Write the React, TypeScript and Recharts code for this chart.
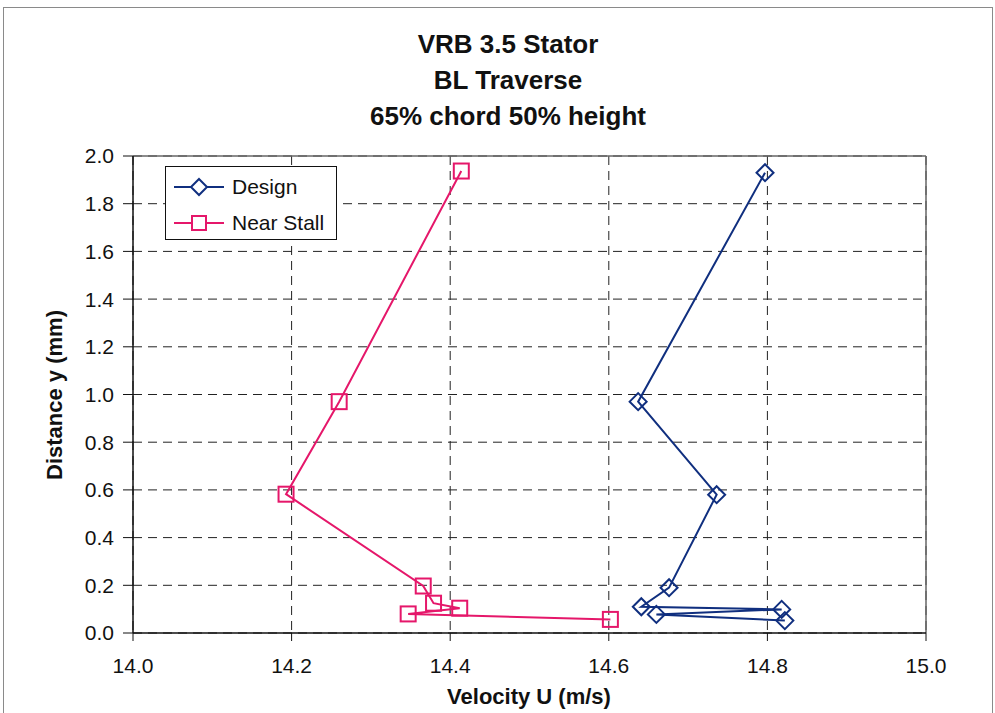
import React from 'react';
import {
    ScatterChart,
    Scatter,
    XAxis,
    YAxis,
    CartesianGrid,
    ReferenceLine,
} from 'recharts';

// velocity (m/s) against distance from wall (mm), one pair of arrays per run
const designVelocity = [14.797, 14.637, 14.736, 14.676, 14.641, 14.818, 14.66, 14.822];
const designDistance = [1.93, 0.97, 0.58, 0.19, 0.11, 0.099, 0.078, 0.052];

const stallVelocity = [14.414, 14.26, 14.193, 14.366, 14.379, 14.412, 14.347, 14.602];
const stallDistance = [1.937, 0.97, 0.582, 0.197, 0.125, 0.104, 0.08, 0.057];

const xTicks = [14.0, 14.2, 14.4, 14.6, 14.8, 15.0];
const yTicks = [0, 0.2, 0.4, 0.6, 0.8, 1.0, 1.2, 1.4, 1.6, 1.8, 2.0];

const titleLines = ['VRB 3.5 Stator', 'BL Traverse', '65% chord 50% height'];

const DESIGN_COLOR = '#102f7f';
const STALL_COLOR = '#e5176a';
const FONT = '"Liberation Sans", Arial, sans-serif';

const toPoints = (xs: number[], ys: number[]) => xs.map((x, i) => ({ x, y: ys[i] }));

const designData = toPoints(designVelocity, designDistance);
const stallData = toPoints(stallVelocity, stallDistance);

const Diamond = (props: any) => {
    const { cx, cy } = props;
    const r = 8.5;
    return (
        <path
            d={`M${cx},${cy - r} L${cx + r},${cy} L${cx},${cy + r} L${cx - r},${cy} Z`}
            fill="none"
            stroke={DESIGN_COLOR}
            strokeWidth={2}
        />
    );
};

const Square = (props: any) => {
    const { cx, cy } = props;
    const h = 7.5;
    return (
        <rect x={cx - h} y={cy - h} width={h * 2} height={h * 2} fill="none" stroke={STALL_COLOR} strokeWidth={2} />
    );
};

const legendItems = [
    { name: 'Design', shape: 'diamond', color: DESIGN_COLOR },
    { name: 'Near Stall', shape: 'square', color: STALL_COLOR },
];

const LegendBox = () => (
    <div
        style={{
            position: 'absolute',
            left: 165,
            top: 166,
            width: 170,
            height: 72,
            border: '1px solid #111',
            background: '#fff',
            fontFamily: FONT,
            fontSize: 21,
        }}
    >
        {legendItems.map((item, i) => (
            <div key={item.name} style={{ display: 'flex', alignItems: 'center', height: 36, marginTop: i === 0 ? 2 : 0 }}>
                <svg width={60} height={20} style={{ marginLeft: 6 }}>
                    <line x1={2} y1={10} x2={52} y2={10} stroke={item.color} strokeWidth={2} />
                    {item.shape === 'diamond' ? (
                        <path d="M27,2 L35,10 L27,18 L19,10 Z" fill="#fff" stroke={item.color} strokeWidth={2} />
                    ) : (
                        <rect x={20} y={3} width={14} height={14} fill="#fff" stroke={item.color} strokeWidth={2} />
                    )}
                </svg>
                <span style={{ color: '#111' }}>{item.name}</span>
            </div>
        ))}
    </div>
);

const App: React.FC = () => {
    return (
        <div style={{ position: 'absolute', left: 0, top: 0, width: 995, height: 713, background: '#fff', overflow: 'hidden' }}>
            <div
                style={{
                    position: 'absolute',
                    left: 3,
                    top: 7,
                    width: 988,
                    height: 730,
                    border: '1.5px solid #8a8a8a',
                }}
            />
            <div
                style={{
                    position: 'absolute',
                    left: 308,
                    top: 26,
                    width: 400,
                    textAlign: 'center',
                    fontFamily: FONT,
                    fontWeight: 'bold',
                    fontSize: 26,
                    lineHeight: '36px',
                    color: '#111',
                }}
            >
                {titleLines.map((t) => (
                    <div key={t}>{t}</div>
                ))}
            </div>
            <ScatterChart
                width={995}
                height={713}
                margin={{ top: 156, right: 69, bottom: 0, left: 0 }}
                style={{ position: 'absolute', left: 0, top: 0 }}
            >
                <CartesianGrid stroke="#222" strokeDasharray="9 6" strokeWidth={1} />
                <XAxis
                    type="number"
                    dataKey="x"
                    domain={[14, 15]}
                    ticks={xTicks}
                    tickFormatter={(v: number) => v.toFixed(1)}
                    height={80}
                    tickSize={8}
                    tickMargin={17}
                    axisLine={{ stroke: '#111', strokeWidth: 1.5 }}
                    tickLine={{ stroke: '#111' }}
                    tick={{ fill: '#111', fontSize: 21, fontFamily: FONT }}
                    allowDataOverflow
                />
                <YAxis
                    type="number"
                    dataKey="y"
                    domain={[0, 2]}
                    ticks={yTicks}
                    tickFormatter={(v: number) => v.toFixed(1)}
                    width={133}
                    tickSize={10}
                    tickMargin={9}
                    axisLine={{ stroke: '#111', strokeWidth: 1.5 }}
                    tickLine={{ stroke: '#111' }}
                    tick={{ fill: '#111', fontSize: 21, fontFamily: FONT }}
                    allowDataOverflow
                />
                <ReferenceLine y={2} stroke="#666" strokeWidth={1.5} />
                <ReferenceLine x={15} stroke="#666" strokeWidth={1.5} />
                <Scatter
                    name="Design"
                    data={designData}
                    line={{ stroke: DESIGN_COLOR, strokeWidth: 2 }}
                    shape={<Diamond />}
                    isAnimationActive={false}
                />
                <Scatter
                    name="Near Stall"
                    data={stallData}
                    line={{ stroke: STALL_COLOR, strokeWidth: 2 }}
                    shape={<Square />}
                    isAnimationActive={false}
                />
            </ScatterChart>
            <LegendBox />
            <div
                style={{
                    position: 'absolute',
                    left: 329,
                    top: 684,
                    width: 400,
                    textAlign: 'center',
                    fontFamily: FONT,
                    fontWeight: 'bold',
                    fontSize: 22,
                    color: '#111',
                }}
            >
                Velocity U (m/s)
            </div>
            <div
                style={{
                    position: 'absolute',
                    left: 55 - 100,
                    top: 395 - 13,
                    width: 200,
                    textAlign: 'center',
                    fontFamily: FONT,
                    fontWeight: 'bold',
                    fontSize: 22,
                    color: '#111',
                    transform: 'rotate(-90deg)',
                    transformOrigin: '100px 13px',
                }}
            >
                Distance y (mm)
            </div>
        </div>
    );
};

export default App;
